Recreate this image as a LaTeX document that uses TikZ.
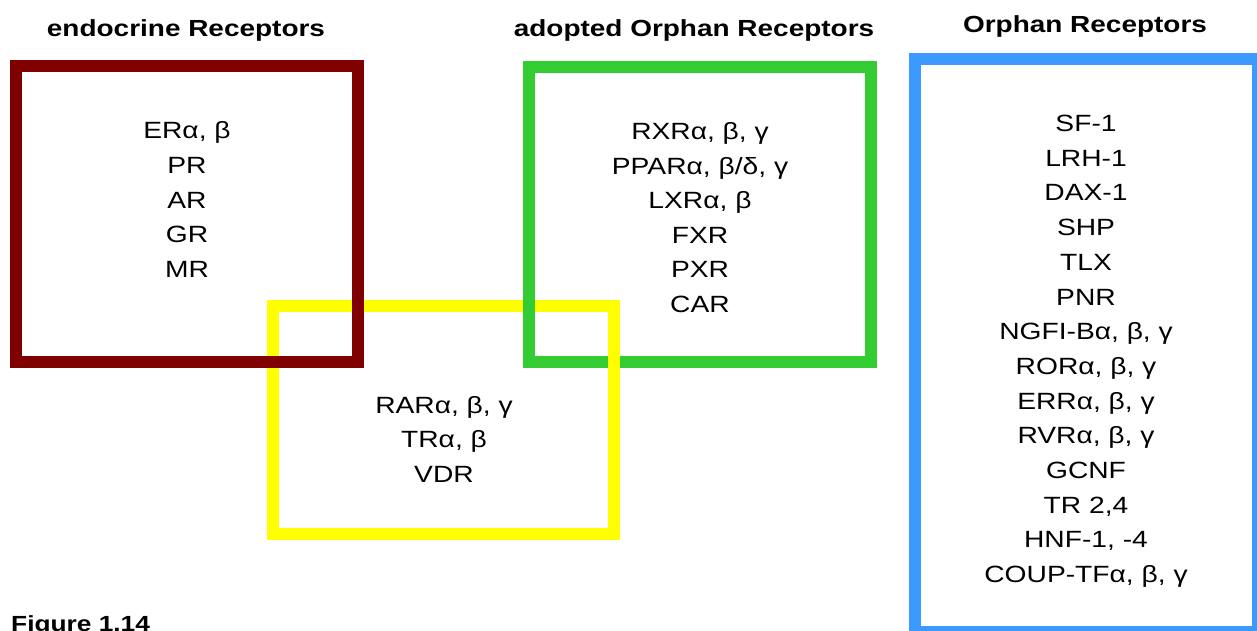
\documentclass[tikz,border=0pt]{standalone}
\usepackage{fontspec}
\setmainfont{Liberation Sans}
\newfontfamily\lblfont[FakeStretch=1.2]{Liberation Sans}
\definecolor{endoc}{RGB}{128,0,0}
\definecolor{ratc}{RGB}{255,255,0}
\definecolor{adoptc}{RGB}{51,204,51}
\definecolor{orphc}{RGB}{59,153,255}
\begin{document}
\begin{tikzpicture}[x=1pt,y=-1pt,
  frame/.style={line width=12pt, line join=miter},
  item/.style={font=\lblfont\fontsize{23.5}{28}\selectfont, anchor=base, inner sep=0pt},
  head/.style={font=\lblfont\bfseries\fontsize{23.3}{28}\selectfont, anchor=base, inner sep=0pt}]
\useasboundingbox (0,0) rectangle (1257,631);
\clip (0,0) rectangle (1257,631);

% group frames (woven where they cross)
\draw[frame, ratc]   (273,306) rectangle (614,534);
\draw[frame, endoc]  (16,66)   rectangle (358,362);
\draw[frame, adoptc] (529,67)  rectangle (871,362);
\draw[frame, ratc, line cap=butt] (614,348) -- (614,376);
\draw[frame, orphc]  (915,59)  rectangle (1258,632);

% headings
\node[head] (hendo)  at (186,37)  {endocrine Receptors};
\node[head] (hadopt) at (694,37)  {adopted Orphan Receptors};
\node[head] (horph)  at (1085,33) {Orphan Receptors};

% receptor lists
\foreach \t [count=\i] in {{ERα, β},PR,AR,GR,MR}
  \node[item] (endo\i) at (187,{139+34.5*(\i-1)}) {\t};
\foreach \t [count=\i] in {{RXRα, β, γ},{PPARα, β/δ, γ},{LXRα, β},FXR,PXR,CAR}
  \node[item] (adopt\i) at (700,{140+34.4*(\i-1)}) {\t};
\foreach \t [count=\i] in {{RARα, β, γ},{TRα, β},VDR}
  \node[item] (rat\i) at (444,{413+34.5*(\i-1)}) {\t};
\foreach \t [count=\i] in {SF-1,LRH-1,DAX-1,SHP,TLX,PNR,{NGFI-Bα, β, γ},{RORα, β, γ},{ERRα, β, γ},{RVRα, β, γ},GCNF,{TR 2,4},{HNF-1, -4},{COUP-TFα, β, γ}}
  \node[item] (orph\i) at (1086,{131.5+34.7*(\i-1)}) {\t};

% caption, running off the lower edge
\node[head, font=\lblfont\bfseries\fontsize{21.9}{26}\selectfont, anchor=base west] (caption) at (11,631) {Figure 1.14};
\end{tikzpicture}
\end{document}
